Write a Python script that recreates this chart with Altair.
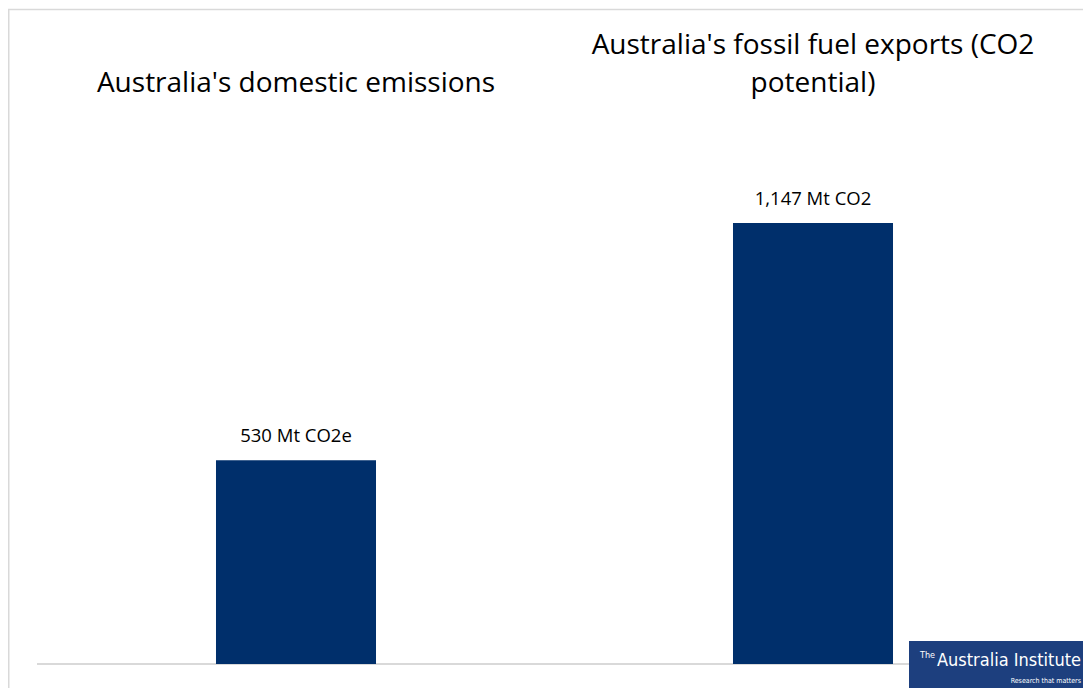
import altair as alt
import pandas as pd

categories = ["Australia's domestic emissions", "Australia's fossil fuel exports (CO2 potential)"]
values = [530, 1147]
value_labels = ["530 Mt CO2e", "1,147 Mt CO2"]
title_upper = ["", "Australia's fossil fuel exports (CO2"]
title_lower = ["Australia's domestic emissions", "potential)"]

df = pd.DataFrame({
    "cat": categories,
    "value": values,
    "label": value_labels,
    "upper": title_upper,
    "lower": title_lower,
})

FONT = "Open Sans"
BAR = "#002f6b"
FRAME = "#d9d9d9"

xenc = alt.X("cat:N", sort=categories, axis=None,
             scale=alt.Scale(range=[29.5, 1063.5], paddingInner=0.6905, paddingOuter=0.34525))
yscale = alt.Scale(domain=[0, 1706], range=[656, 0])
yenc = alt.Y("value:Q", axis=None, scale=yscale)

base = alt.Chart(df)

bars = base.mark_bar(color=BAR).encode(x=xenc, y=yenc)

labels = base.mark_text(font=FONT, fontSize=18.5, baseline="alphabetic", dy=-18, color="#000000").encode(
    x=xenc, y=yenc, text="label:N")

t_upper = base.mark_text(font=FONT, fontSize=28, baseline="alphabetic", color="#000000").encode(
    x=xenc, y=alt.value(46), text="upper:N")
t_lower = base.mark_text(font=FONT, fontSize=28, baseline="alphabetic", color="#000000").encode(
    x=xenc, y=alt.value(84), text="lower:N")

zero = alt.Chart(pd.DataFrame({"zero": [0]})).mark_rule(color=FRAME, strokeWidth=2).encode(
    y=alt.Y("zero:Q", scale=yscale, axis=None), x=alt.value(29), x2=alt.value(1063))

frame_df = pd.DataFrame({"k": [1]})
frame_top = alt.Chart(frame_df).mark_rule(color=FRAME, strokeWidth=1.5).encode(
    x=alt.value(0), x2=alt.value(1075), y=alt.value(1.5))
frame_left = alt.Chart(frame_df).mark_rule(color=FRAME, strokeWidth=1.5).encode(
    x=alt.value(0.75), y=alt.value(1.5), y2=alt.value(680))

logo_df = pd.DataFrame({"name": ["Australia Institute"], "the": ["The"], "tag": ["Research that matters"]})
LOGO_FONT = "DejaVu Sans Condensed"
logo_bg = alt.Chart(logo_df).mark_rect(color="#1d3f7e").encode(
    x=alt.value(901), x2=alt.value(1075), y=alt.value(633), y2=alt.value(680))
logo_name = alt.Chart(logo_df).mark_text(font=LOGO_FONT, fontSize=18, color="white",
                                         align="left", baseline="alphabetic").encode(
    x=alt.value(929), y=alt.value(658), text="name:N")
logo_the = alt.Chart(logo_df).mark_text(font=LOGO_FONT, fontSize=9, color="white",
                                        align="left", baseline="alphabetic").encode(
    x=alt.value(912), y=alt.value(650), text="the:N")
logo_tag = alt.Chart(logo_df).mark_text(font=LOGO_FONT, fontSize=7, color="white",
                                        align="right", baseline="alphabetic").encode(
    x=alt.value(1073), y=alt.value(675), text="tag:N")

chart = alt.layer(frame_top, frame_left, zero, bars, labels, t_upper, t_lower,
                  logo_bg, logo_name, logo_the, logo_tag).properties(
    width=1075, height=680, padding=0, autosize="none"
).configure_view(stroke=None)

chart.save("out.html", embed_options={"renderer": "svg", "actions": False})
